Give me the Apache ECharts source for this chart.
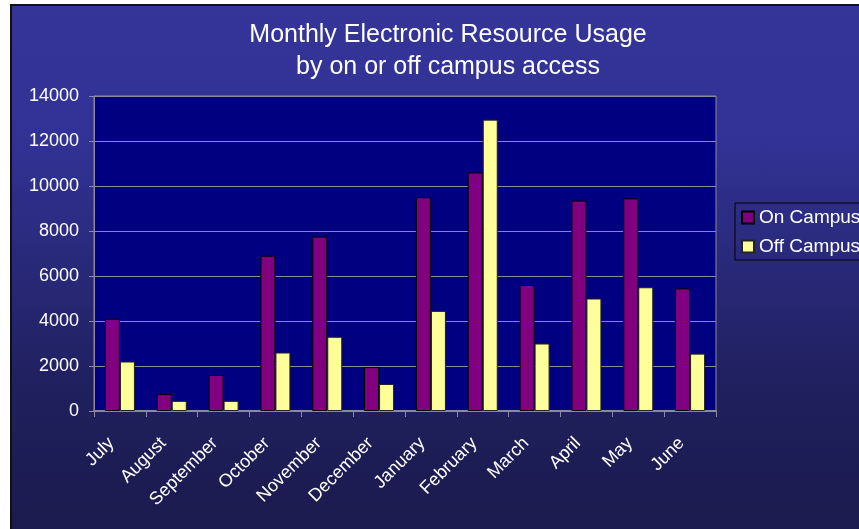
<!DOCTYPE html>
<html>
<head>
<meta charset="utf-8">
<title>Monthly Electronic Resource Usage</title>
<script src="https://cdn.jsdelivr.net/npm/echarts@6/dist/echarts.min.js"></script>
<style>
  html, body { margin: 0; padding: 0; background: #fff; }
  #main {
    position: absolute;
    left: 10px;
    top: 4px;
    width: 847px;
    height: 523px;
    border-left: 2px solid #111;
    border-top: 2px solid #111;
    background: linear-gradient(to bottom, #343499 0%, #323296 25%, #1f1f5c 75%, #1b1b4f 100%);
  }
</style>
</head>
<body>
<div id="main"></div>
<script>
var months = ['July', 'August', 'September', 'October', 'November', 'December',
  'January', 'February', 'March', 'April', 'May', 'June']
var onCampus = [4100, 750, 1600, 6900, 7750, 1950, 9500, 10600, 5600, 9350, 9450, 5450]
var offCampus = [2200, 450, 450, 2600, 3300, 1200, 4450, 12950, 3000, 5000, 5500, 2550]
var yTicks = [0, 2000, 4000, 6000, 8000, 10000, 12000, 14000]

var chartDom = document.getElementById('main')
var myChart = echarts.init(chartDom)
var font = 'Liberation Sans, Arial, sans-serif'
var option

option = {
  backgroundColor: 'transparent',
  animation: false,
  textStyle: { fontFamily: font },
  title: {
    text: 'Monthly Electronic Resource Usage\nby on or off campus access',
    left: 431,
    top: 8,
    textAlign: 'center',
    textStyle: {
      color: '#fff',
      fontSize: 25,
      fontWeight: 'normal',
      lineHeight: 32,
      fontFamily: font
    }
  },
  legend: {
    orient: 'vertical',
    left: 723,
    top: 197,
    padding: [5, 40, 4, 6],
    itemWidth: 12,
    itemHeight: 12,
    itemGap: 10,
    itemTextGap: 6,
    icon: 'rect',
    borderColor: '#000',
    borderWidth: 1,
    textStyle: { color: '#fff', fontSize: 19, fontFamily: font },
    data: ['On Campus', 'Off Campus']
  },
  grid: {
    left: 82,
    top: 90,
    right: 143,
    bottom: 118,
    show: true,
    backgroundColor: '#000080',
    borderColor: '#8a8a9a',
    borderWidth: 1
  },
  xAxis: {
    type: 'category',
    data: months,
    boundaryGap: true,
    axisLine: { lineStyle: { color: '#8a8a9a', width: 2 } },
    axisTick: { show: true, length: 6, lineStyle: { color: '#8a8a9a' } },
    axisLabel: {
      color: '#fff',
      fontSize: 18,
      rotate: 45,
      interval: 0,
      margin: 21,
      padding: [0, 12, 0, 0],
      fontFamily: font
    }
  },
  yAxis: {
    type: 'value',
    min: yTicks[0],
    max: yTicks[yTicks.length - 1],
    interval: yTicks[1] - yTicks[0],
    axisLine: { show: true, lineStyle: { color: '#8a8a9a' } },
    axisTick: { show: true, length: 5, lineStyle: { color: '#8a8a9a' } },
    splitLine: { lineStyle: { color: '#8a8a9a' } },
    axisLabel: {
      color: '#fff',
      fontSize: 18,
      margin: 15,
      fontFamily: font,
      formatter: function (v) { return String(v) }
    }
  },
  series: [
    {
      name: 'On Campus',
      type: 'bar',
      barWidth: 15,
      barGap: '0%',
      itemStyle: { color: '#800080', borderColor: '#000', borderWidth: 1 },
      data: onCampus
    },
    {
      name: 'Off Campus',
      type: 'bar',
      barWidth: 15,
      barGap: '0%',
      itemStyle: { color: '#ffff99', borderColor: '#222', borderWidth: 1 },
      data: offCampus
    }
  ]
}

option && myChart.setOption(option)
</script>
</body>
</html>
